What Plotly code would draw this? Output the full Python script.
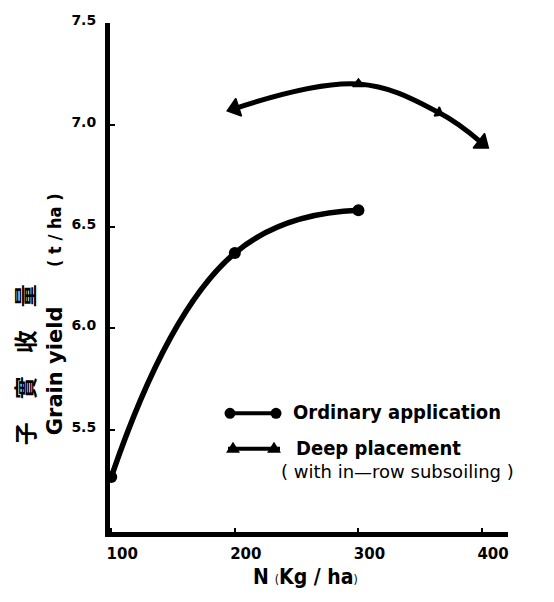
import plotly.graph_objects as go

# ---- data ----
n_ordinary = [100, 200, 300]
yield_ordinary = [5.27, 6.37, 6.58]
n_deep = [200, 300, 365, 400]
yield_deep = [7.08, 7.20, 7.06, 6.91]
x_ticks = [100, 200, 300, 400]
y_ticks = [5.5, 6.0, 6.5, 7.0, 7.5]
y_ticklabels = ["5.5", "6.0", "6.5", "7.0", "7.5"]

W, H = 554, 602
L, R, T, B = 110, 46, 13, 70
PW, PH = W - L - R, H - T - B


def px(x):
    return (x - L) / PW


def py(y):
    return (H - B - y) / PH


COND = "Liberation Sans Narrow, DejaVu Sans Condensed, Arial Narrow, sans-serif"

fig = go.Figure()
fig.add_trace(go.Scatter(
    x=n_ordinary, y=yield_ordinary, mode="lines+markers",
    line=dict(color="black", width=5.5, shape="spline", smoothing=1.3),
    marker=dict(symbol="circle", size=12, color="black", opacity=1, line=dict(width=0)),
    showlegend=False, cliponaxis=False))
fig.add_trace(go.Scatter(
    x=n_deep, y=yield_deep, mode="lines+markers",
    line=dict(color="black", width=5, shape="spline", smoothing=1.1),
    marker=dict(symbol="triangle-up", size=[16, 10, 9, 16], color="#000000", opacity=1,
                angle=[252, 0, 120, 128], line=dict(color="#000000", width=1.5)),
    showlegend=False, cliponaxis=False))

fig.update_layout(
    width=W, height=H, margin=dict(l=L, r=R, t=T, b=B),
    paper_bgcolor="white", plot_bgcolor="white",
    xaxis=dict(range=[99, 421], tickvals=x_ticks, ticktext=[str(v) for v in x_ticks],
               showgrid=False, zeroline=False, showline=True, linewidth=5, linecolor="black",
               ticks="inside", ticklen=4, tickwidth=2, tickcolor="black",
               tickfont=dict(family="DejaVu Sans", size=15, color="black", weight="bold"),
               ticklabelshift=11, ticklabelstandoff=4),
    yaxis=dict(range=[5.0, 7.5], tickvals=y_ticks, ticktext=y_ticklabels,
               showgrid=False, zeroline=False, showline=True, linewidth=5, linecolor="black",
               ticks="inside", ticklen=5, tickwidth=2, tickcolor="black",
               tickfont=dict(family="DejaVu Sans", size=14, color="black", weight="bold"),
               ticklabelshift=-3, ticklabelstandoff=6),
)

# custom legend (decoration)
shapes = []
shapes.append(dict(type="line", xref="paper", yref="paper", x0=px(228), x1=px(278),
                   y0=py(411), y1=py(411), line=dict(color="black", width=4)))
for cx in (230, 276):
    shapes.append(dict(type="circle", xref="paper", yref="paper", xsizemode="pixel",
                       ysizemode="pixel", xanchor=px(cx), yanchor=py(411),
                       x0=-5.5, x1=5.5, y0=-5.5, y1=5.5,
                       fillcolor="black", line=dict(color="black", width=0)))
shapes.append(dict(type="line", xref="paper", yref="paper", x0=px(228), x1=px(280),
                   y0=py(447), y1=py(447), line=dict(color="black", width=4)))
for cx in (233, 274):
    shapes.append(dict(type="path", xref="paper", yref="paper", xsizemode="pixel",
                       ysizemode="pixel", xanchor=px(cx), yanchor=py(447),
                       path="M -7,-4 L 7,-4 L 0,7 Z",
                       fillcolor="black", line=dict(color="black", width=0)))
fig.update_layout(shapes=shapes)

ann = []
ann.append(dict(text="<b>Ordinary application</b>", x=px(291), y=py(410), xref="paper", yref="paper",
                xanchor="left", yanchor="middle", showarrow=False,
                font=dict(family=COND, size=20, color="black")))
ann.append(dict(text="<b>Deep placement</b>", x=px(294), y=py(446), xref="paper", yref="paper",
                xanchor="left", yanchor="middle", showarrow=False,
                font=dict(family=COND, size=20, color="black")))
ann.append(dict(text="( with in\u2014row subsoiling )", x=px(279), y=py(470), xref="paper", yref="paper",
                xanchor="left", yanchor="middle", showarrow=False,
                font=dict(family="DejaVu Sans, sans-serif", size=18, color="black")))
ann.append(dict(text="<b>N</b> <span style='font-size:12px'>(</span><b>Kg / ha</b><span style='font-size:12px'>)</span>",
                x=px(305), y=py(578), xref="paper", yref="paper",
                xanchor="center", yanchor="middle", showarrow=False,
                font=dict(family=COND, size=21, color="black")))
ann.append(dict(text="子\u3000實\u3000收\u3000量", x=px(24), y=py(362), xref="paper", yref="paper",
                xanchor="center", yanchor="middle", showarrow=False, textangle=-90,
                font=dict(family="Noto Sans CJK TC, Noto Sans CJK JP", size=23, color="black",
                          weight="bold")))
ann.append(dict(text="<b>Grain yield</b>", x=px(55), y=py(368), xref="paper", yref="paper",
                xanchor="center", yanchor="middle", showarrow=False, textangle=-90,
                font=dict(family="DejaVu Sans", size=21, color="black")))
ann.append(dict(text="<b>( t / ha )</b>", x=px(55), y=py(225), xref="paper", yref="paper",
                xanchor="center", yanchor="middle", showarrow=False, textangle=-90,
                font=dict(family=COND, size=18, color="black")))
fig.update_layout(annotations=ann)

fig.write_html("out.html")
